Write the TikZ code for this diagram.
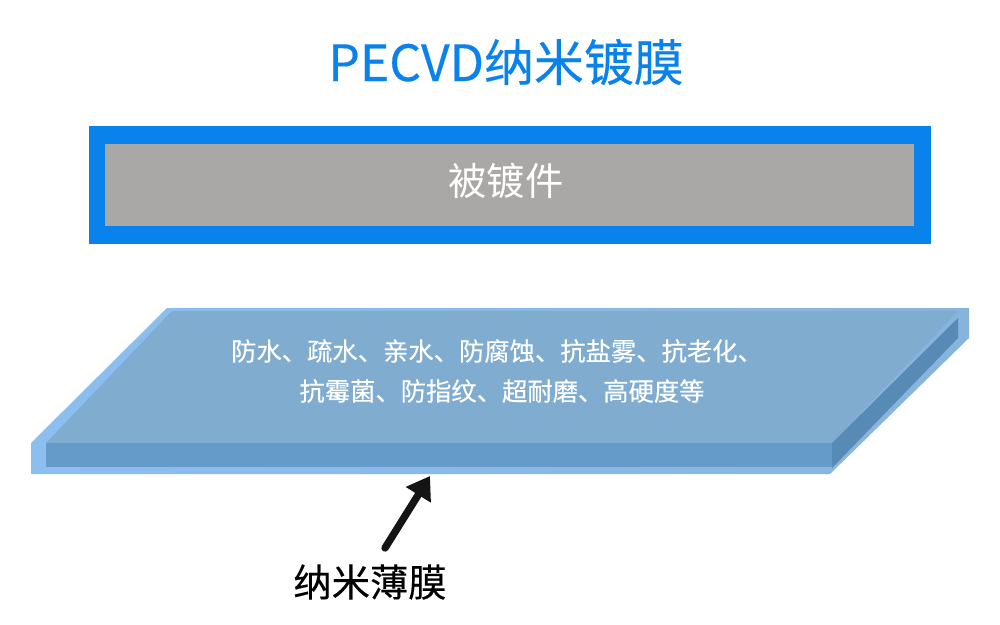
\documentclass[tikz,border=0pt]{standalone}
\usepackage{fontspec}
\setmainfont{Noto Sans CJK SC}
\newfontfamily\medfont[FakeBold=0.25]{Noto Sans CJK SC}
\usetikzlibrary{arrows.meta}
\definecolor{frameblue}{RGB}{10,130,235}
\definecolor{partgray}{RGB}{170,168,166}
\definecolor{filmlight}{RGB}{140,190,240}
\definecolor{filmedge}{RGB}{135,180,220}
\definecolor{filmtop}{RGB}{128,172,208}
\definecolor{filmfront}{RGB}{100,155,200}
\definecolor{filmside}{RGB}{88,138,182}
\tikzset{
    filmtext/.style={text=white, font=\medfont\fontsize{7.2}{8}\selectfont},
}
\begin{document}
\begin{tikzpicture}[x=0.01cm, y=-0.01cm]
                    \useasboundingbox (0,0) rectangle (1000,624);
                    % Title:
                    \node (title) at (506,62) {\medfont\fontsize{14.2}{16}\selectfont\color{frameblue}PECVD纳米镀膜};

                    % Part:
                    \draw [fill=frameblue, draw=none] (89,126) rectangle (931,244);
                    \draw [fill=partgray, draw=none] (105,144) rectangle (914,226);
                    \node (part) at (506,181) {\fontsize{10.9}{12}\selectfont\color{white}被镀件};

                    % Film:
                    \draw [left color=filmlight, right color=filmedge, draw=none] (31,443) -- (167,308) -- (969,308) -- (969,338) -- (830,474) -- (31,474) -- cycle;
                    \draw [fill=filmtop, draw=none] (46,443) -- (172,311) -- (958,311) -- (832,443) -- cycle;
                    \draw [fill=filmfront, draw=none] (46,443) -- (832,443) -- (832,467) -- (46,467) -- cycle;
                    \draw [fill=filmside, draw=none] (832,443) -- (958,318) -- (958,338) -- (832,468) -- cycle;
                    \node [filmtext] (line1) at (497,351) {防水、疏水、亲水、防腐蚀、抗盐雾、抗老化、};
                    \node [filmtext] (line2) at (502,391) {抗霉菌、防指纹、超耐磨、高硬度等};

                    % Label:
                    \node (label) at (370,582) {\medfont\fontsize{10.9}{13}\selectfont 纳米薄膜};
                    \coordinate (tip) at (430,476);
                    \coordinate (tail) at (385,548);
                    \draw [-{Triangle[length=6.3pt, width=8pt]}, line width=2.1pt, line cap=round, black!92] (tail) -- (tip);
                \end{tikzpicture}
\end{document}
